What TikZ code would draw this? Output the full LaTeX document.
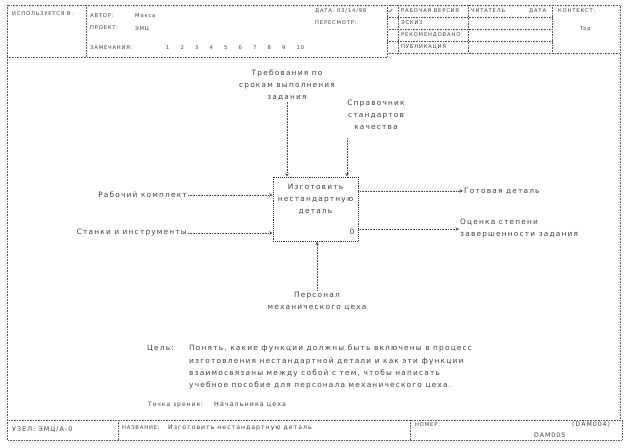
\documentclass[tikz,border=0pt]{standalone}
\usepackage{fontspec}
\setmainfont{DejaVu Sans}
\newfontfamily\idef[LetterSpace=16]{DejaVu Sans}
\usetikzlibrary{positioning}

\begin{document}
\begin{tikzpicture}[x=1pt,y=-1pt,
 frame/.style={gray!70!black, densely dotted, line width=0.6pt},
 hdr/.style={anchor=west, inner sep=0pt, font=\idef\fontsize{5.2}{6}\selectfont, text=black!75},
 lbl/.style={inner sep=1pt, font=\idef\fontsize{7.4}{12}\selectfont, text=black!75, align=center},
 actbox/.style={draw=black!80, densely dotted, line width=0.9pt, minimum width=85pt, minimum height=64pt},
 arr/.style={-stealth, black!70, densely dotted, line width=0.6pt}]

\useasboundingbox (0,0) rectangle (631,447);

% header
\draw[frame] (7,57)--(7,5)--(620,5)--(620,420);
\draw[frame] (7,57)--(387,57)--(387,53)--(620,53);
\draw[frame] (86,5)--(86,57);
\draw[frame] (387,5)--(387,53);
\draw[frame] (398,5)--(398,53);
\draw[frame] (468,5)--(468,53);
\draw[frame] (552,5)--(552,53);
\draw[frame] (387,17)--(552,17);
\draw[frame] (387,29)--(552,29);
\draw[frame] (387,41)--(552,41);

\node[hdr] (usedat) at (12,14) {ИСПОЛЬЗУЕТСЯ В:};
\node[hdr] (author) at (90,16) {АВТОР:};
\node[hdr] (authorname) at (135,16) {Макса};
\node[hdr] (project) at (90,28) {ПРОЕКТ:};
\node[hdr] (projectname) at (135,29) {ЭМЦ};
\node[hdr] (notes) at (90,48) {ЗАМЕЧАНИЯ:};
\foreach \n [count=\i from 0] in {1,...,10}
  \node[hdr] (note\n) at (166+14.5*\i,48) {\n};
\node[hdr] (date) at (315,11) {ДАТА: 03/14/98};
\node[hdr] (rev) at (315,23) {ПЕРЕСМОТР:};
\node[hdr, font=\fontsize{7}{8}\selectfont] (tick) at (388,11) {✓};
\node[hdr] (working) at (401,11) {РАБОЧАЯ ВЕРСИЯ};
\node[hdr] (draft) at (401,23) {ЭСКИЗ};
\node[hdr] (recom) at (401,35) {РЕКОМЕНДОВАНО};
\node[hdr] (publ) at (401,47) {ПУБЛИКАЦИЯ};
\node[hdr] (reader) at (471,11) {ЧИТАТЕЛЬ};
\node[hdr] (rdate) at (529,11) {ДАТА};
\node[hdr] (context) at (558,11) {КОНТЕКСТ:};
\node[hdr] (ctxtop) at (580,29) {Top};

% activity
\node[actbox] (act) at (315.5,209) {};
\node[lbl] (actname) at (315.5,199) {Изготовить\\нестандартную\\деталь};
\node[lbl] (actnum) at (352,232) {0};

% controls
\node[lbl] (ctlreq) at (287,85) {Требования по\\срокам выполнения\\задания};
\draw[arr] (ctlreq.south) -- (ctlreq.south |- act.north);
\node[lbl] (ctlstd) at (376,115) {Справочник\\стандартов\\качества};
\coordinate (ctlstdtop) at (347,138);
\draw[arr] (ctlstdtop) -- (ctlstdtop |- act.north);

% inputs
\node[lbl, anchor=east] (inwork) at (188,195) {Рабочий комплект};
\draw[arr] (inwork.east) -- (inwork.east -| act.west);
\node[lbl, anchor=east] (intools) at (188,233) {Станки и инструменты};
\draw[arr] (intools.east) -- (intools.east -| act.west);

% outputs
\node[lbl, anchor=west] (outpart) at (463,191) {Готовая деталь};
\draw[arr] (outpart.west -| act.east) -- (outpart.west);
\node[lbl, anchor=west, align=left] (outrate) at (459,229) {Оценка степени\\завершенности задания};
\draw[arr] (outrate.west -| act.east) -- (outrate.west);

% mechanism
\node[lbl] (mechstaff) at (317,301) {Персонал\\механического цеха};
\draw[arr] (mechstaff.north) -- (mechstaff.north |- act.south);

% purpose and viewpoint
\node[lbl, anchor=north west] (purposelbl) at (146,344) {Цель:};
\node[lbl, anchor=north west, align=left, font=\idef\fontsize{7.4}{12.3}\selectfont] (purpose) at (188,344)
 {Понять, какие функции должны быть включены в процесс\\изготовления нестандартной детали и как эти функции\\взаимосвязаны между собой с тем, чтобы написать\\учебное пособие для персонала механического цеха.};
\node[lbl, anchor=west, font=\idef\fontsize{6}{7}\selectfont] (viewlbl) at (147,405) {Точка зрения:};
\node[lbl, anchor=west, font=\idef\fontsize{6.4}{7}\selectfont] (view) at (213,405) {Начальника цеха};

% footer
\draw[frame] (7,57)--(7,440)--(622,440)--(622,420)--(7,420);
\draw[frame] (118,420)--(118,440);
\draw[frame] (410,420)--(410,440);
\node[hdr, font=\idef\fontsize{6.4}{7}\selectfont] (node) at (12,430) {УЗЕЛ: ЭМЦ/А-0};
\node[hdr] (title) at (122,428) {НАЗВАНИЕ:};
\node[hdr, font=\idef\fontsize{6.2}{7}\selectfont] (titletext) at (168,428) {Изготовить нестандартную деталь};
\node[hdr] (number) at (415,425) {НОМЕР:};
\node[hdr, font=\idef\fontsize{6.2}{7}\selectfont] (numold) at (572,425) {(DAM004)};
\node[hdr, font=\idef\fontsize{6.2}{7}\selectfont] (numnew) at (534,435) {DAM005};

\end{tikzpicture}
\end{document}
